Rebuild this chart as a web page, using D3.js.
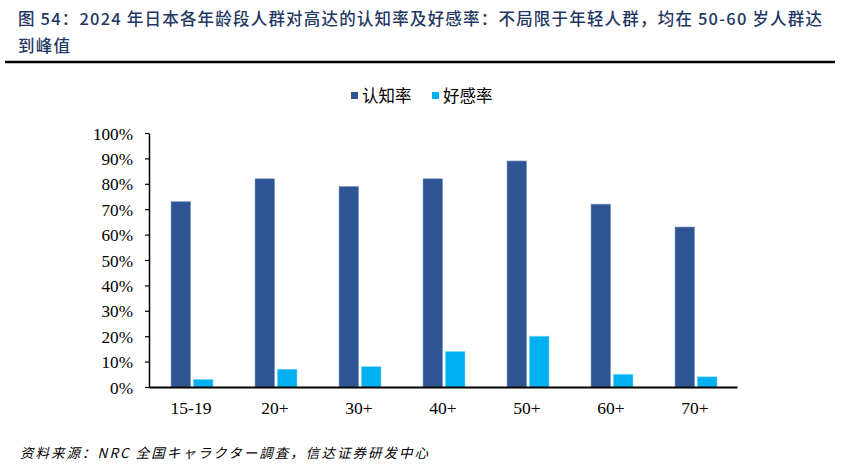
<!DOCTYPE html>
<html><head><meta charset="utf-8">
<script src="https://cdn.jsdelivr.net/npm/d3@7"></script>
<style>
body{margin:0;background:#fff;}
svg{display:block;}
</style></head>
<body>
<svg id="c" width="841" height="467"></svg>
<script>
const categories = ["15-19","20+","30+","40+","50+","60+","70+"];
const awareness = [73,82,79,82,89,72,63];
const favorability = [3,7,8,14,20,5,4];
const seriesNames = ["认知率","好感率"];
const yTicks = [0,10,20,30,40,50,60,70,80,90,100];
const titleLines = ["图 54：2024 年日本各年龄段人群对高达的认知率及好感率：不局限于年轻人群，均在 50-60 岁人群达","到峰值"];
const sourceText = "资料来源：NRC 全国キャラクター調査，信达证券研发中心";

const colors = ["#2E5593","#00B0F0"];
const svg = d3.select("#c");
const cjk = "'Noto Sans CJK SC', sans-serif";
const serif = "'Liberation Serif','Times New Roman',serif";

// title
const tl = svg.selectAll("text.title").data(titleLines).enter().append("text")
  .attr("x",18).attr("y",(d,i)=>25+i*27)
  .attr("font-family",cjk).attr("font-size",16.5).attr("fill","#1F3864")
  .attr("font-weight",500)
  .text(d=>d);
tl.filter((d,i)=>i===0).attr("textLength",804).attr("lengthAdjust","spacing");
tl.filter((d,i)=>i===1).attr("textLength",52).attr("lengthAdjust","spacing");
svg.append("line").attr("x1",5).attr("x2",835).attr("y1",62).attr("y2",62)
  .attr("stroke","#000").attr("stroke-width",2.5);

const x0 = d3.scaleBand().domain(categories).range([149,737]);
const x1 = d3.scaleBand().domain(seriesNames).range([22,64]).paddingInner(0.12);
const y = d3.scaleLinear().domain([0,100]).range([387,133]);

const g = svg.append("g");
const data = categories.map((c,i)=>({c, vals:[awareness[i],favorability[i]]}));
const grp = g.selectAll("g.cat").data(data).enter().append("g")
  .attr("transform",d=>`translate(${x0(d.c)},0)`);
grp.selectAll("rect").data(d=>d.vals.map((v,j)=>({v,j}))).enter().append("rect")
  .attr("x",d=>x1(seriesNames[d.j])).attr("width",x1.bandwidth())
  .attr("y",d=>y(d.v)).attr("height",d=>y(0)-y(d.v))
  .attr("fill",d=>colors[d.j])
  .attr("stroke",d=>d.j===0?"#8FA6CC":"#7FD7F7").attr("stroke-width",0.6);

// y axis
const yAxis = d3.axisLeft(y).tickValues(yTicks).tickFormat(d=>d+"%").tickSize(4).tickSizeOuter(0);
const ya = svg.append("g").attr("transform","translate(149,0)").call(yAxis);
ya.select(".domain").attr("stroke","#000").attr("stroke-width",1.5);
ya.selectAll(".tick line").attr("stroke","#000").attr("stroke-width",1.2);
ya.selectAll("text").attr("font-family",serif).attr("font-size",17.2).attr("fill","#000").attr("x",-16).attr("dy","0.35em");

// x axis
const xAxis = d3.axisBottom(x0).tickSize(0).tickSizeOuter(0);
const xa = svg.append("g").attr("transform","translate(0,387)").call(xAxis);
xa.select(".domain").attr("stroke","#000").attr("stroke-width",2);
xa.selectAll("text").attr("font-family",serif).attr("font-size",17.5).attr("fill","#000").attr("y",15).attr("dy","0.71em");

// legend
const legX = [351,432];
const leg = svg.selectAll("g.leg").data(seriesNames).enter().append("g")
  .attr("transform",(d,i)=>`translate(${legX[i]},96)`);
leg.append("rect").attr("x",0).attr("y",-4).attr("width",7).attr("height",7).attr("fill",(d,i)=>colors[i]);
leg.append("text").attr("x",11).attr("y",0).attr("dy","0.35em")
  .attr("font-family",cjk).attr("font-size",16.5).attr("fill","#000").text(d=>d);

// source
svg.append("text").attr("x",20).attr("y",458)
  .attr("font-family",cjk).attr("font-size",13.5).attr("font-style","italic").attr("fill","#000")
  .attr("textLength",408).attr("lengthAdjust","spacing")
  .text(sourceText);
</script>
</body></html>
